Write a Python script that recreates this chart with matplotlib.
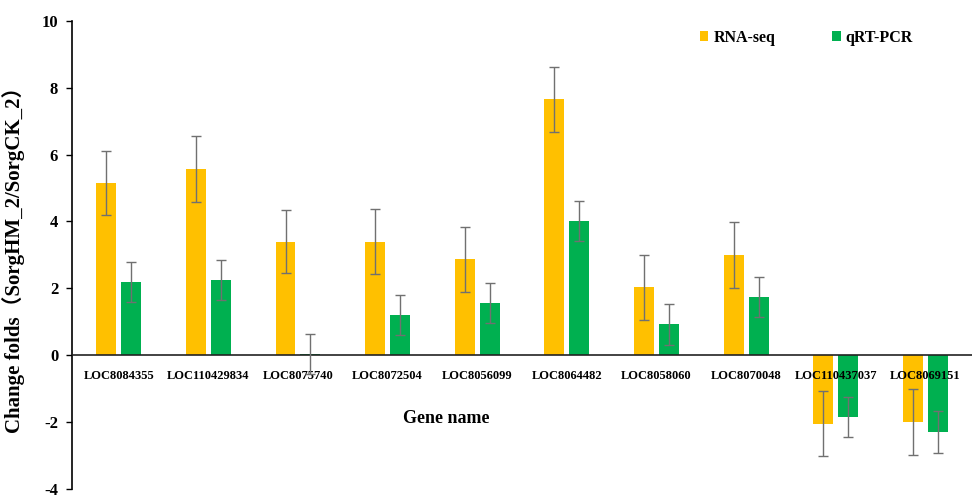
import numpy as np
import matplotlib.pyplot as plt

genes = ["LOC8084355", "LOC110429834", "LOC8075740", "LOC8072504", "LOC8056099",
         "LOC8064482", "LOC8058060", "LOC8070048", "LOC110437037", "LOC8069151"]
rna_seq = [5.15, 5.57, 3.40, 3.40, 2.87, 7.65, 2.03, 3.00, -2.05, -2.00]
rna_err = [0.97, 0.98, 0.95, 0.97, 0.97, 0.97, 0.97, 0.98, 0.97, 0.98]
qpcr = [2.20, 2.25, 0.05, 1.20, 1.57, 4.02, 0.92, 1.73, -1.85, -2.30]
qpcr_err = [0.60, 0.60, 0.60, 0.60, 0.60, 0.60, 0.60, 0.60, 0.60, 0.62]

serif = ["Liberation Serif", "Noto Sans CJK SC"]

fig = plt.figure(figsize=(9.74, 4.95), dpi=100)
ax = fig.add_axes([0.074, 0.012, 0.924, 0.946])

x = np.arange(len(genes))
w = 0.222
off = 0.139
ebar = dict(ecolor="#707070", elinewidth=1.0, capsize=3.5, capthick=1.0, zorder=6)
ax.bar(x - off, rna_seq, w, yerr=rna_err, color="#FFC000", label="RNA-seq", error_kw=ebar, zorder=2)
ax.bar(x + off, qpcr, w, yerr=qpcr_err, color="#00B050", label="qRT-PCR", error_kw=ebar, zorder=2)

ax.set_xlim(-0.52, 9.52)
ax.set_ylim(-4, 10)
ax.set_yticks(range(-4, 11, 2))
ax.set_yticklabels([str(v) for v in range(-4, 11, 2)], fontfamily=serif, fontweight="bold", fontsize=12)
ax.tick_params(axis="y", direction="out", length=4, width=1, pad=6)
ax.set_xticks([])

for s in ["top", "right", "bottom"]:
    ax.spines[s].set_visible(False)
ax.spines["left"].set_linewidth(1.2)
ax.axhline(0, color="#222222", linewidth=1.2, zorder=3)

for xi, g in zip(x, genes):
    ax.text(xi, -0.45, g, ha="center", va="top", fontsize=9, fontfamily=serif, fontweight="bold", zorder=5)

ax.set_ylabel("Change folds（SorgHM_2/SorgCK_2）", fontfamily=serif, fontweight="bold", fontsize=15, labelpad=12)
ax.text(3.65, -1.9, "Gene name", ha="center", va="center", fontsize=13, fontfamily=serif, fontweight="bold")

leg = ax.legend(loc="upper right", bbox_to_anchor=(0.95, 1.012), ncol=2, frameon=False,
                prop={"family": serif, "weight": "bold", "size": 11.5},
                handlelength=0.55, handleheight=0.55, handletextpad=0.3, columnspacing=3.55)

fig.savefig("out.png", dpi=100)
